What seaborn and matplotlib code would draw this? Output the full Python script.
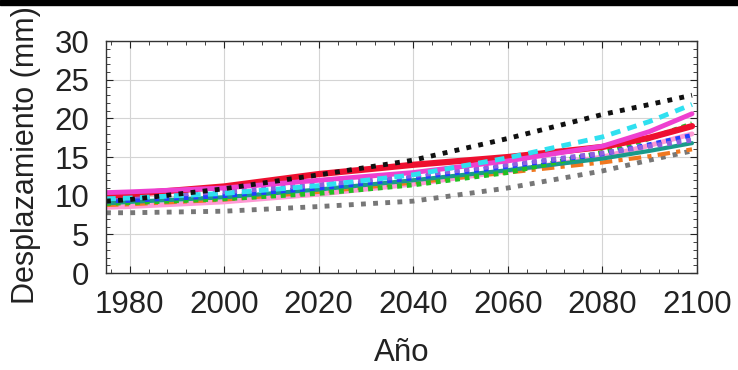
import pandas as pd
import matplotlib.pyplot as plt
import seaborn as sns
from matplotlib.patches import Rectangle
from matplotlib.ticker import MultipleLocator

years = [1975, 1980, 2000, 2020, 2040, 2060, 2080, 2090, 2099]

# displacement (mm) per model run
black_dot = [9.3, 9.5, 10.9, 12.7, 14.6, 17.4, 20.5, 21.8, 23.0]
red = [10.0, 10.2, 11.2, 12.8, 14.0, 15.0, 16.3, 17.5, 19.0]
magenta = [10.4, 10.5, 11.0, 12.0, 13.0, 14.5, 16.4, 18.3, 20.6]
cyan = [9.6, 9.7, 10.3, 11.3, 12.7, 14.9, 17.6, 19.6, 21.8]
green = [9.0, 9.1, 9.6, 10.3, 11.4, 13.0, 15.6, 17.4, 19.3]
blue = [9.3, 9.4, 10.0, 11.0, 12.3, 13.8, 15.4, 16.6, 17.8]
purple = [9.8, 9.9, 10.5, 11.4, 12.6, 14.0, 15.5, 16.4, 17.2]
teal = [9.0, 9.2, 9.8, 10.8, 12.0, 13.3, 14.8, 15.8, 16.8]
orange = [8.8, 8.9, 9.5, 10.5, 11.7, 13.0, 14.3, 15.1, 16.0]
gray = [7.8, 7.8, 8.0, 8.6, 9.3, 11.0, 13.2, 14.6, 15.8]
pink = [8.5, 8.6, 9.2, 10.2, 11.5, 13.2, 15.0, 16.5, 18.0]

series = [
    ("pink", pink, "#ff9ad5", "-", 3.5),
    ("gray", gray, "#777777", (0, (1, 1.5)), 3.5),
    ("orange", orange, "#f07820", (0, (3, 1.5, 1, 1.5)), 3),
    ("teal", teal, "#1a9a8a", "-", 3),
    ("green", green, "#22c022", (0, (1, 1)), 3.5),
    ("blue", blue, "#2040ff", (0, (1, 1)), 3.5),
    ("purple", purple, "#9060e0", (0, (1, 1)), 3.5),
    ("red", red, "#ee1030", "-", 4.5),
    ("magenta", magenta, "#ee40d0", "-", 3.5),
    ("cyan", cyan, "#30e0f0", (0, (2, 1.5)), 3.5),
    ("black", black_dot, "#111111", (0, (1, 1.5)), 3.5),
]

sns.set_theme(style="ticks")
plt.rcParams["font.family"] = ["Liberation Sans", "DejaVu Sans"]

fig = plt.figure(figsize=(7.38, 3.70), dpi=100)
ax = fig.add_axes([0.1436, 0.262, 0.8005, 0.627])

for name, vals, col, ls, lw in series:
    df = pd.DataFrame({"year": years, "value": vals})
    sns.lineplot(data=df, x="year", y="value", ax=ax, color=col,
                 linestyle=ls, linewidth=lw, legend=False)

ax.set_xlim(1975, 2100)
ax.set_ylim(0, 30)
ax.xaxis.set_major_locator(MultipleLocator(20))
ax.xaxis.set_minor_locator(MultipleLocator(4))
ax.yaxis.set_major_locator(MultipleLocator(5))
ax.yaxis.set_minor_locator(MultipleLocator(1))
ax.grid(True, which="major", color="#d4d4d4", linewidth=0.8)
ax.tick_params(which="both", direction="in", top=True, right=True,
               colors="#222222", labelcolor="#222222")
ax.tick_params(which="major", length=5, width=0.8, labelsize=22.5, pad=12)
ax.tick_params(which="minor", length=3, width=0.6)
for sp in ax.spines.values():
    sp.set_color("#333333")
    sp.set_linewidth(1)

ax.set_xlabel("Año", fontsize=22.5, color="#222222")
ax.set_ylabel("Desplazamiento (mm)", fontsize=22, color="#222222")
ax.xaxis.set_label_coords(0.5, -0.345)
ax.xaxis.label.set_va("center")
ax.yaxis.set_label_coords(-0.135, 0.51)
ax.yaxis.label.set_va("center")

# dark band along the top edge
fig.patches.append(Rectangle((0, 0.986), 1, 0.014, transform=fig.transFigure,
                             color="black", zorder=10))

fig.savefig("out.png", dpi=100)
